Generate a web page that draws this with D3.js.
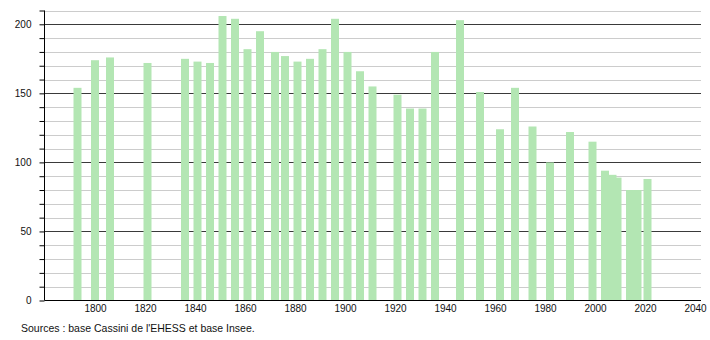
<!DOCTYPE html>
<html>
<head>
<meta charset="utf-8">
<script src="https://cdn.jsdelivr.net/npm/d3@7"></script>
<style>
  body { margin: 0; background: #fff; }
  text { font-family: "Liberation Sans", Arial, sans-serif; font-size: 10px; fill: #111; }
</style>
</head>
<body>
<svg class="pop" width="710" height="340"></svg>
<script>
// census years and inhabitants
var years = [1793, 1800, 1806, 1821, 1836, 1841, 1846, 1851, 1856, 1861, 1866,
  1872, 1876, 1881, 1886, 1891, 1896, 1901, 1906, 1911, 1921, 1926, 1931, 1936,
  1946, 1954, 1962, 1968, 1975, 1982, 1990, 1999, 2004, 2007, 2009, 2014, 2017, 2021];
var population = [154, 174, 176, 172, 175, 173, 172, 206, 204, 182, 195,
  180, 177, 173, 175, 182, 204, 180, 166, 155, 149, 139, 139, 180,
  203, 151, 124, 154, 126, 100, 122, 115, 94, 91, 89, 80, 80, 88];
var xTicks = [1800, 1820, 1840, 1860, 1880, 1900, 1920, 1940, 1960, 1980, 2000, 2020, 2040];
var yLabels = [0, 50, 100, 150, 200];
var yGrid = d3.range(10, 211, 10);
var source = "Sources : base Cassini de l'EHESS et base Insee.";

(function () {
  var left = 44.5, right = 701, bottom = 300.5, top = 10.5;
  var barWidth = 8;

  var svg = d3.select(".pop");

  var x = d3.scaleLinear().domain([1780, 2040]).range([45, 695]);
  var y = d3.scaleLinear().domain([0, 210]).range([bottom, top]);

  var data = years.map(function (d, i) { return {year: d, value: population[i]}; });

  // grid
  svg.append("g").selectAll("line")
    .data(yGrid)
    .enter().append("line")
      .attr("x1", left)
      .attr("x2", right)
      .attr("y1", function (d) { return Math.round(y(d)) + 0.5; })
      .attr("y2", function (d) { return Math.round(y(d)) + 0.5; })
      .style("stroke", function (d) { return d % 50 === 0 ? "#3a3a3a" : "#cccccc"; })
      .style("stroke-width", 1);

  // bars
  svg.append("g").selectAll("rect")
    .data(data)
    .enter().append("rect")
      .attr("x", function (d) { return x(d.year) - barWidth / 2; })
      .attr("y", function (d) { return y(d.value); })
      .attr("width", barWidth)
      .attr("height", function (d) { return y(0) - y(d.value); })
      .style("fill", "#b3e6b3");

  // y axis
  var yaxis = d3.axisLeft(y)
    .tickValues(d3.range(0, 211, 10))
    .tickSize(5)
    .tickPadding(8)
    .tickFormat(function (d) { return yLabels.indexOf(d) >= 0 ? d : ""; });
  var ya = svg.append("g")
    .attr("transform", "translate(" + left + ",0)")
    .call(yaxis);
  ya.select(".domain").attr("d", "M0," + top + "V" + bottom).style("stroke", "#000");
  ya.selectAll(".tick line").style("stroke", "#000");
  ya.selectAll("text").style("font-family", "Liberation Sans, Arial, sans-serif")
    .style("font-size", "10px").style("fill", "#111");

  // x axis
  var xaxis = d3.axisBottom(x)
    .tickValues(xTicks)
    .tickSize(0)
    .tickPadding(4)
    .tickFormat(d3.format("d"));
  var xa = svg.append("g")
    .attr("transform", "translate(0," + bottom + ")")
    .call(xaxis);
  xa.select(".domain").attr("d", "M" + left + ",0H" + right).style("stroke", "#000");
  xa.selectAll("text").style("font-family", "Liberation Sans, Arial, sans-serif")
    .style("font-size", "10px").style("fill", "#111");

  svg.append("text")
    .attr("x", 21)
    .attr("y", 332)
    .style("font-size", "10.5px")
    .text(source);
})();
</script>
</body>
</html>
